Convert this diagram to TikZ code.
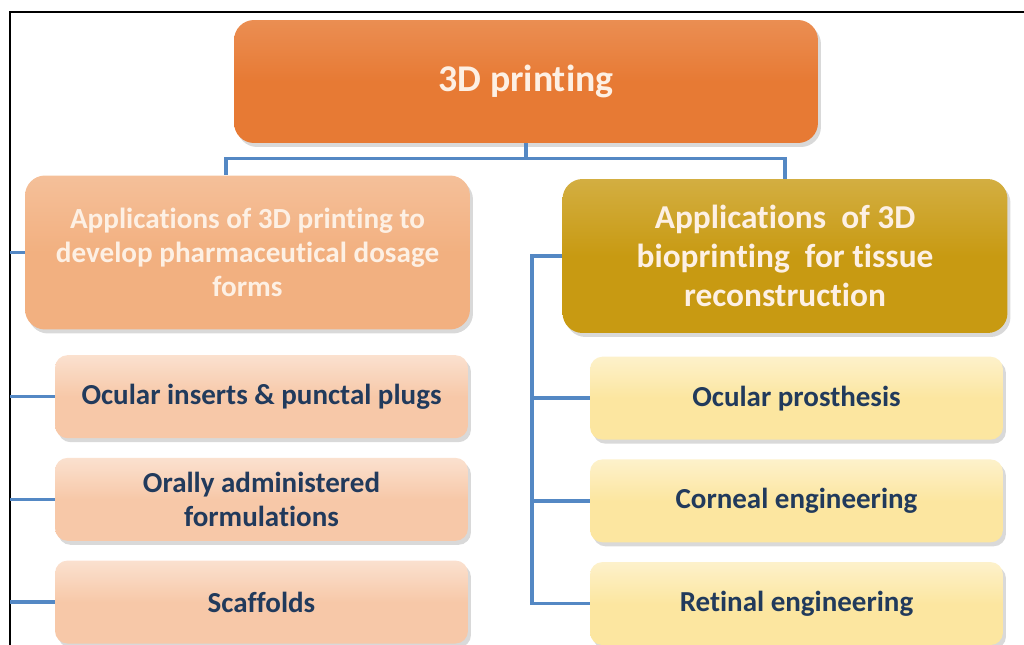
\documentclass[tikz,border=0pt]{standalone}
\usepackage{fontspec}
\setmainfont{Carlito}[Ligatures=NoCommon]
\definecolor{RootOrange}{RGB}{231,122,52}
\definecolor{PharmaPeach}{RGB}{242,176,128}
\definecolor{BioGold}{RGB}{200,154,18}
\definecolor{LeafPeach}{RGB}{247,200,168}
\definecolor{LeafYellow}{RGB}{252,230,160}
\definecolor{LinkBlue}{RGB}{84,136,196}
\definecolor{LabelNavy}{RGB}{33,58,92}
\definecolor{SoftWhite}{RGB}{253,240,228}
\usetikzlibrary{positioning, shadows}

\begin{document}
\begin{tikzpicture}[x=0.02cm, y=-0.02cm,
    boxbase/.style={rounded corners=0.4cm, align=center, font=\bfseries, inner sep=0pt,
      drop shadow={opacity=0.3, shadow xshift=0.6mm, shadow yshift=-0.8mm}},
    rootbox/.style={boxbase, top color=RootOrange!85!white, bottom color=RootOrange, middle color=RootOrange,
      text=SoftWhite, minimum width=11.68cm, minimum height=2.46cm, font=\bfseries\fontsize{21.5}{25}\selectfont},
    groupbox/.style={boxbase, text=SoftWhite, minimum width=8.9cm, minimum height=3.08cm,
      font=\bfseries\fontsize{16.6}{19.5}\selectfont},
    leafbox/.style={boxbase, rounded corners=0.25cm, text=LabelNavy, minimum width=8.26cm, minimum height=1.66cm,
      font=\bfseries\fontsize{16.5}{19.5}\selectfont},
    link/.style={draw=LinkBlue, line width=2pt},
    node distance=0.38cm]

  \useasboundingbox (0,0) rectangle (1024,645);
  \draw[line width=1.2pt] (1024,12) -- (10,12) -- (10,645);
  \coordinate (edge) at (10,0);
  \coordinate (rail) at (532,0);

  % top of the tree
  \node[rootbox] (print) at (526,81.5) {3D printing};

  % the two branches
  \node[groupbox, top color=PharmaPeach!80!white, bottom color=PharmaPeach, middle color=PharmaPeach] (pharma) at (247.5,252.5)
    {Applications of 3D printing to\\develop pharmaceutical dosage\\forms};
  \node[groupbox, top color=BioGold!80!white, bottom color=BioGold, middle color=BioGold,
    font=\bfseries\fontsize{19}{22}\selectfont] (bio) at (785,256)
    {Applications\ \ of 3D\\bioprinting\ \ for tissue\\reconstruction};

  % dosage forms
  \node[leafbox, top color=LeafPeach!55!white, bottom color=LeafPeach, middle color=LeafPeach, below=0.5cm of pharma, xshift=0.28cm] (inserts) {Ocular inserts \& punctal plugs};
  \node[leafbox, top color=LeafPeach!55!white, bottom color=LeafPeach, middle color=LeafPeach, below=of inserts] (oral) {Orally administered\\formulations};
  \node[leafbox, top color=LeafPeach!55!white, bottom color=LeafPeach, middle color=LeafPeach, below=of oral] (scaffold) {Scaffolds};

  % tissue reconstruction
  \node[leafbox, top color=LeafYellow!55!white, bottom color=LeafYellow, middle color=LeafYellow, below=0.46cm of bio, xshift=0.23cm] (prosthesis) {Ocular prosthesis};
  \node[leafbox, top color=LeafYellow!55!white, bottom color=LeafYellow, middle color=LeafYellow, below=of prosthesis] (corneal) {Corneal engineering};
  \node[leafbox, top color=LeafYellow!55!white, bottom color=LeafYellow, middle color=LeafYellow, below=of corneal] (retinal) {Retinal engineering};

  % connectors
  \draw[link] (print.south) -- ++(0,15) -| ([xshift=-0.43cm]pharma.north);
  \draw[link] (print.south) -- ++(0,15) -| (bio.north);
  \draw[link] (edge |- pharma.west) -- (pharma.west);
  \draw[link] (edge |- inserts.west) -- (inserts.west);
  \draw[link] (edge |- oral.west) -- (oral.west);
  \draw[link] (edge |- scaffold.west) -- (scaffold.west);
  \draw[link] (bio.west) -- (rail |- bio.west) -- (rail |- retinal.west) -- (retinal.west);
  \draw[link] (rail |- prosthesis.west) -- (prosthesis.west);
  \draw[link] (rail |- corneal.west) -- (corneal.west);
\end{tikzpicture}
\end{document}
